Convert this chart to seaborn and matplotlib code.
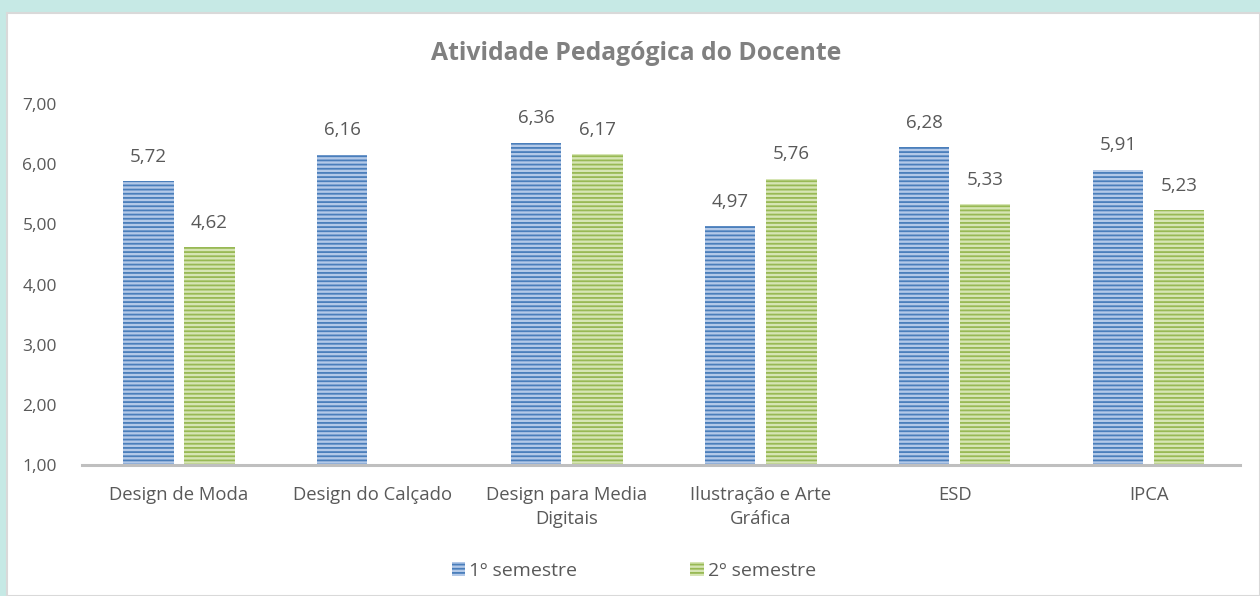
import numpy as np
import pandas as pd
import matplotlib
matplotlib.use("Agg")
import matplotlib.pyplot as plt
import matplotlib.patches as mpatches
import seaborn as sns

# data
cursos = ['Design de Moda', 'Design do Calçado', 'Design para Media\nDigitais',
          'Ilustração e Arte\nGráfica', 'ESD', 'IPCA']
semestres = ['1º semestre', '2º semestre']
sem1 = [5.72, 6.16, 6.36, 4.97, 6.28, 5.91]
sem2 = [4.62, np.nan, 6.17, 5.76, 5.33, 5.23]

df = pd.DataFrame({
    'curso': cursos * 2,
    'semestre': [semestres[0]] * len(cursos) + [semestres[1]] * len(cursos),
    'media': sem1 + sem2,
})

sns.set_style("white")
plt.rcParams['font.family'] = ['Open Sans', 'DejaVu Sans']
plt.rcParams['hatch.linewidth'] = 1.3

txt_grey = '#595959'
light = {'1º semestre': '#b3c9e8', '2º semestre': '#d6e5b4'}
dark = {'1º semestre': '#4a7ebb', '2º semestre': '#98b954'}

fig = plt.figure(figsize=(12.6, 5.96), dpi=100)
fig.patch.set_facecolor('#c6e9e5')
# white chart panel with thin grey border
fig.add_artist(mpatches.Rectangle((7 / 1260, 0), 1 - 7 / 1260, 1 - 13 / 596,
                                  transform=fig.transFigure, facecolor='white',
                                  edgecolor='#d9d9d9', linewidth=1.5, zorder=0))

ax = fig.add_axes([0.065, 0.2198, 0.919, 0.6057])
ax.set_facecolor('none')

sns.barplot(data=df, x='curso', y='media', hue='semestre', order=cursos,
            hue_order=semestres, palette=light, width=0.63, gap=0.175,
            ax=ax, legend=False, saturation=1)

for cont, sem in zip(ax.containers, semestres):
    for bar in cont:
        bar.set_hatch('----')
        bar.set_edgecolor(dark[sem])
        bar.set_linewidth(0)
    vals = [b.get_height() for b in cont]
    labs = ['' if np.isnan(v) else f'{v:.2f}'.replace('.', ',') for v in vals]
    ax.bar_label(cont, labels=labs, padding=11, fontsize=13.5, color=txt_grey)

ax.set_ylim(1, 7)
ax.set_xlim(-0.5, 5.47)
ax.set_yticks(np.arange(1, 8))
ax.set_yticklabels([f'{v:.2f}'.replace('.', ',') for v in np.arange(1, 8)])
ax.set_xlabel('')
ax.set_ylabel('')
ax.tick_params(axis='y', labelsize=12.5, colors=txt_grey, length=0, pad=18)
ax.tick_params(axis='x', labelsize=13.3, colors=txt_grey, length=0, pad=15)
for lab in ax.get_xticklabels():
    lab.set_linespacing(1.45)
for s in ['top', 'right', 'left']:
    ax.spines[s].set_visible(False)
ax.spines['bottom'].set_color('#bfbfbf')
ax.spines['bottom'].set_linewidth(2.2)

fig.text(0.505, 0.91, 'Atividade Pedagógica do Docente', ha='center', va='center',
         fontsize=17.8, fontweight='bold', color='#808080')

handles = [mpatches.Patch(facecolor=light[s], edgecolor=dark[s], hatch='----',
                          linewidth=0, label=s) for s in semestres]
fig.legend(handles=handles, loc='center', bbox_to_anchor=(0.503, 0.042), ncol=2,
           frameon=False, fontsize=14, labelcolor=txt_grey, columnspacing=5.8,
           handlelength=0.7, handleheight=0.7, handletextpad=0.2)

fig.savefig('out.png', dpi=100, facecolor=fig.get_facecolor())
